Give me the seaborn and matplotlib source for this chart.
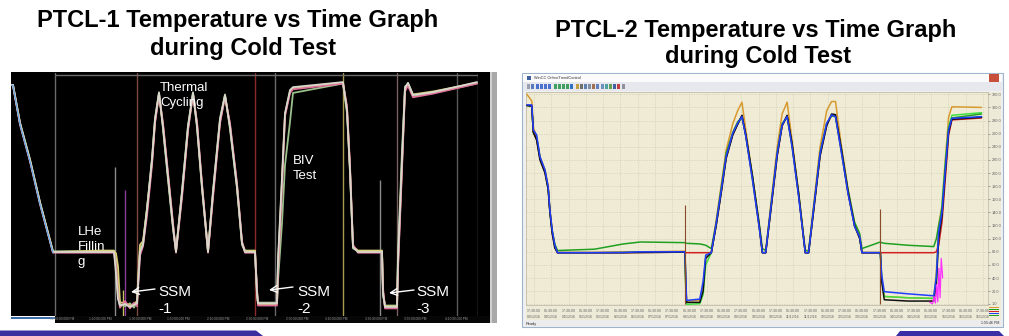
import numpy as np
import pandas as pd
import matplotlib
matplotlib.use("Agg")
import matplotlib.pyplot as plt
import seaborn as sns
from matplotlib.patches import Rectangle, Polygon

# ---------------- data: PTCL-1 (left, hours from start, temperature K) ----------------
ptcl1_time = [0, 2, 9, 19, 29, 42, 89, 103, 105, 107, 109, 114, 119, 123, 126, 129, 132, 136, 141,
              144, 148, 152, 157, 162, 165, 171, 177, 182, 186, 191, 197, 202, 209, 214, 219, 226,
              231, 234, 244, 246, 247, 259, 266, 267, 271, 274, 279, 282, 332, 336, 339, 342, 347,
              371, 372, 374, 386, 387, 391, 394, 397, 402, 422, 466]
ptcl1_s1 = [311, 311, 258, 207, 148, 80, 80, 80, 50, 15, 6, 8, 4, 7, 9, 80, 90, 138, 207, 263, 300,
            253, 184, 115, 80, 162, 253, 300, 255, 170, 80, 162, 263, 297, 253, 170, 92, 80, 80, 23,
            9, 9, 9, 69, 184, 272, 304, 308, 315, 276, 193, 87, 80, 80, 23, 4, 4, 69, 207, 307, 314,
            297, 301, 315]
ptcl1_s2 = [311, 310, 256, 205, 146, 79, 79, 79, 60, 20, 3, 12, 2, 10, 5, 75, 88, 130, 200, 258, 298,
            258, 190, 120, 79, 155, 248, 298, 260, 175, 79, 155, 258, 295, 258, 175, 95, 79, 79, 30,
            6, 6, 6, 55, 170, 268, 300, 305, 313, 282, 200, 90, 79, 79, 30, 2, 2, 55, 195, 302, 310,
            294, 299, 313]
ptcl1_s3 = [311, 311, 259, 208, 149, 81, 81, 81, 70, 25, 8, 5, 9, 3, 12, 84, 92, 140, 210, 265, 301,
            250, 180, 112, 81, 165, 255, 301, 252, 168, 81, 165, 265, 298, 250, 168, 90, 81, 81, 20,
            10, 10, 10, 40, 120, 200, 260, 300, 313, 272, 190, 85, 81, 81, 20, 6, 6, 80, 220, 309,
            312, 295, 300, 313]
ptcl1_s4 = [311, 311, 258, 207, 148, 80, 82, 82, 78, 60, 10, 10, 6, 8, 12, 90, 95, 140, 205, 260, 299,
            255, 186, 117, 82, 160, 250, 299, 257, 172, 82, 160, 260, 296, 255, 172, 93, 82, 82, 26,
            8, 8, 8, 64, 178, 270, 302, 306, 314, 278, 195, 88, 82, 82, 26, 5, 5, 62, 200, 305, 313,
            298, 302, 314]
ptcl1_sensors = ["T1", "T2", "T3", "T4"]
ptcl1_colors = {"T1": "#d8d8cc", "T2": "#e0709a", "T3": "#9cc08c", "T4": "#d8cf78"}
ptcl1_events = [44, 126, 244, 264, 332, 386, 446, 467]
ptcl1_event_colors = ["#6a6a6a", "#7a4a40", "#8a2a2a", "#6a6a6a", "#a89a50", "#7a6060", "#5a5a5a", "#6a6a6a"]
ptcl1_spike_t = [104, 112, 114, 369]
ptcl1_spike_top = [197, 27, 166, 180]
ptcl1_spike_colors = ["#8a8a8a", "#c8c060", "#8a3a9a", "#8a8a8a"]
ptcl1_tick_pos = [51, 89, 129, 167, 207, 246, 286, 325, 365, 404, 445]
ptcl1_tick_labels = ["12:50:00.000 PM", "1:10:00.000 PM", "1:30:00.000 PM", "1:50:00.000 PM",
                     "2:10:00.000 PM", "2:30:00.000 PM", "2:50:00.000 PM", "3:10:00.000 PM",
                     "3:30:00.000 PM", "3:50:00.000 PM", "4:10:00.000 PM"]

# ---------------- data: PTCL-2 (right, hours, temperature K) ----------------
ptcl2_time = [-5.0, -1.6, -0.5, 1.8, 4.1, 7.6, 9.8, 11.0, 12.6, 14.4, 16.3,
              42.0, 62.0, 74.0, 104.9,
              105.3, 106.0, 115.2, 117.5, 119.3, 123.2,
              126.6, 130.1, 133.5, 138.1, 141.5, 144.5, 147.2, 151.8, 156.4, 158.7,
              161.0, 164.4, 169.0, 172.4, 175.9, 179.3, 183.9, 188.5,
              190.8, 194.2, 198.8, 203.4, 206.8, 209.5, 213.7, 218.2, 222.8, 226.3, 227.9,
              240.7, 241.6, 243.4, 260.0, 277.8,
              279.6, 281.2, 283.5, 285.8, 288.1, 290.4, 311.0]
ptcl2_orange = [320, 310, 270, 255, 225, 205, 180, 145, 113, 91, 79,
                79, 80, 80, 81,
                50, 5, 6, 30, 72, 79,
                128, 182, 235, 275, 295, 308, 265, 195, 120, 79,
                79, 150, 240, 290, 308, 250, 170, 79,
                79, 150, 240, 295, 309, 309, 240, 175, 122, 104, 79,
                79, 40, 12, 10, 9,
                50, 120, 150, 220, 285, 301, 300]
ptcl2_lime = [303, 302, 263, 255, 223, 203, 178, 142, 112, 90, 78.7,
              78.7, 79, 80, 80,
              30, 0, 1, 15, 60, 78.7,
              122, 173, 224, 260, 275, 285, 256, 190, 119, 78.7,
              78.7, 143, 229, 273, 285, 241, 165, 78.7,
              78.7, 143, 229, 275, 288, 286, 231, 170, 119, 103, 78.7,
              78.7, 40, 12, 10, 9,
              40, 105, 150, 215, 270, 288, 292]
ptcl2_green = [303, 302, 262, 252, 224, 203, 177, 142, 111, 92, 82,
               84, 92, 95, 94,
               93, 93, 92, 91, 90, 85,
               125, 178, 230, 262, 278, 285, 258, 196, 125, 85,
               82, 145, 232, 275, 286, 245, 170, 82,
               82, 145, 232, 276, 287, 286, 236, 175, 125, 108, 85,
               95, 94, 93, 90, 88,
               100, 120, 145, 210, 268, 284, 290]
ptcl2_red = [303, 303, 263, 252, 222, 202, 178, 142, 110, 88, 78.7,
             78.7, 78.7, 79, 79.5,
             78.7, 78.7, 78.7, 78.7, 78.7, 78.7,
             122, 172, 224, 259, 275, 287, 257, 192, 120, 78.7,
             78.7, 142, 228, 272, 287, 243, 166, 78.7,
             78.7, 142, 228, 274, 289, 287, 232, 170, 119, 102, 78.7,
             78.7, 78.7, 78.7, 78.7, 78.7,
             80, 90, 125, 190, 258, 281, 284]
ptcl2_black = [303, 302, 262, 250, 220, 200, 175, 140, 108, 86, 78.7,
               78.7, 78.7, 79, 79.5,
               40, 3, 3, 20, 70, 78.7,
               120, 170, 222, 258, 274, 288, 258, 195, 122, 78.7,
               78.7, 140, 226, 272, 288, 245, 168, 78.7,
               78.7, 140, 226, 272, 290, 289, 235, 172, 120, 100, 78.7,
               78.7, 35, 7, 5, 5,
               30, 100, 135, 200, 262, 282, 285]
ptcl2_blue = [303.8, 303.8, 265.7, 258, 225, 204.7, 179.3, 143.7, 113.3, 90.4, 78.7,
              78.7, 79, 80, 80,
              52, 6, 8, 35, 75, 78.7,
              123.4, 174.2, 225, 260.6, 275.8, 286, 255.5, 189.5, 118.3, 78.7,
              78.7, 143.7, 230.1, 273.3, 286, 240.3, 164.1, 78.7,
              78.7, 143.7, 230.1, 275.8, 288.5, 286, 230.1, 169.1, 118.3, 103.1, 78.7,
              78.7, 45, 19.3, 16, 13,
              42, 110, 140, 204.7, 265.7, 283.4, 286]
ptcl2_magenta_time = [275, 277, 278, 279, 279.8, 280.6, 281.4, 282.2, 283, 284]
ptcl2_magenta = [3, 1, 12, 2, 30, 4, 55, 10, 70, 40]
ptcl2_palette = {"TT-A": "#d89a30", "TT-B": "#40e040", "TT-C": "#20a020",
                 "TT-D": "#d02020", "TT-E": "#101010", "TT-F": "#1f3fff"}
ptcl2_spike_t = [104.9, 240.2]
ptcl2_spike_top = [151, 146]
ptcl2_yticks = [1, 20, 40, 60, 80, 100, 120, 140, 160, 180, 200, 220, 240, 260, 280, 300, 320]
ptcl2_xticks = [0, 12, 24, 36, 48, 60, 72, 84, 96, 108, 120, 132, 144, 156, 168, 180, 192, 204,
                216, 228, 240, 252, 264, 276, 288, 300, 312]
ptcl2_xlabels = ["17:30:00\n03/12/16", "05:30:00\n04/12/16", "17:30:00\n04/12/16", "05:30:00\n05/12/16",
                 "17:30:00\n05/12/16", "05:30:00\n06/12/16", "17:30:00\n06/12/16", "05:30:00\n07/12/16",
                 "17:30:00\n07/12/16", "05:30:00\n08/12/16", "17:30:00\n08/12/16", "05:30:00\n09/12/16",
                 "17:30:00\n09/12/16", "05:30:00\n10/12/16", "17:30:00\n10/12/16", "05:30:00\n11/12/16",
                 "17:30:00\n11/12/16", "05:30:00\n12/12/16", "17:30:00\n12/12/16", "05:30:00\n13/12/16",
                 "17:30:00\n13/12/16", "05:30:00\n14/12/16", "17:30:00\n14/12/16", "05:30:00\n15/12/16",
                 "17:30:00\n15/12/16", "05:30:00\n16/12/16", "17:30:00\n16/12/16"]

# ---------------- figure ----------------
sns.set_theme(style="white")
plt.rcParams['font.family'] = ['Liberation Sans', 'DejaVu Sans']

W, H = 1009, 336
fig = plt.figure(figsize=(W / 100, H / 100), dpi=100)
fig.patch.set_facecolor("white")


def px_axes(x0, y0, x1, y1, **kw):
    ax = fig.add_axes([x0 / W, 1 - y1 / H, (x1 - x0) / W, (y1 - y0) / H], **kw)
    ax.set_zorder(10)
    return ax


def fig_rect(x0, y0, x1, y1, color, ec="none", lw=0, z=0):
    fig.patches.append(Rectangle((x0 / W, 1 - y1 / H), (x1 - x0) / W, (y1 - y0) / H,
                                 transform=fig.transFigure, facecolor=color, edgecolor=ec,
                                 linewidth=lw, zorder=z))


def fig_poly(pts, color, z=0):
    fig.patches.append(Polygon([(x / W, 1 - y / H) for x, y in pts], closed=True,
                               transform=fig.transFigure, facecolor=color, edgecolor="none",
                               zorder=z))


# titles
title_font = dict(family=['Liberation Sans', 'DejaVu Sans'],
                  fontweight='bold', color='black', ha='center', va='center')
fig.text(237.5 / W, 1 - 21 / H, "PTCL-1 Temperature vs Time Graph", fontsize=17, **title_font)
fig.text(243 / W, 1 - 48 / H, "during Cold Test", fontsize=17, **title_font)
fig.text(756 / W, 1 - 31 / H, "PTCL-2 Temperature vs Time Graph", fontsize=17, **title_font)
fig.text(758 / W, 1 - 57 / H, "during Cold Test", fontsize=17, **title_font)

# ---------------- left screenshot chrome ----------------
fig_rect(11, 72, 497, 316, "black")
fig_rect(55, 316, 497, 323, "#060606")
fig_rect(11, 316.5, 55, 318.5, "#3d6ca8")
fig_rect(490, 72, 497, 323, "#a8a8a8")
fig_rect(490, 72, 492, 323, "#d0d0d0")

T_TOP, T_BOT = 80 + (252 - 73) / 0.723, 80 - (316 - 252) / 0.723
axL = px_axes(11, 73, 478, 316)
axL.set_facecolor("none")
axL.set_xlim(0, 467)
axL.set_ylim(T_BOT, T_TOP)
axL.axis("off")

for t, c in zip(ptcl1_events, ptcl1_event_colors):
    axL.axvline(t, color=c, lw=1.0, zorder=1)
axL.hlines(80 + (252 - 74.5) / 0.723, 44, 467, color="#6a6a6a", lw=1.0, zorder=1)
for t, top, c in zip(ptcl1_spike_t, ptcl1_spike_top, ptcl1_spike_colors):
    axL.vlines(t, T_BOT, top, color=c, lw=1.0, zorder=2)

df1 = pd.DataFrame({
    "time": ptcl1_time * 4,
    "temp": ptcl1_s1 + ptcl1_s2 + ptcl1_s3 + ptcl1_s4,
    "sensor": sum([[s] * len(ptcl1_time) for s in ptcl1_sensors], []),
})
sns.lineplot(data=df1, x="time", y="temp", hue="sensor", hue_order=["T3", "T4", "T2", "T1"],
             palette=ptcl1_colors, estimator=None, sort=False, lw=1.3, legend=False, ax=axL,
             zorder=3)
axL.plot(ptcl1_time[:6], ptcl1_s2[:6], color="#5aa0e0", lw=0.8, zorder=4)

axL.text(149, 80 + (252 - 82) / 0.723, "Thermal\nCycling", fontsize=9.5, color="white",
         ha="left", va="top", linespacing=1.35)
axL.text(282, 80 + (252 - 155) / 0.723, "BIV\nTest", fontsize=9.5, color="white",
         ha="left", va="top", linespacing=1.35)
axL.text(67, 80 + (252 - 226) / 0.723, "LHe\nFillin\ng", fontsize=9.5, color="white",
         ha="left", va="top", linespacing=1.35)
for t0, lab in [(147, "SSM\n-1"), (286, "SSM\n-2"), (405, "SSM\n-3")]:
    axL.text(t0, 80 + (252 - 285) / 0.723, lab, fontsize=11, color="white",
             ha="left", va="top", linespacing=1.25)
for (xa, ya), (xb, yb) in [((144, 289), (120, 292)), ((282, 287), (258, 290)), ((403, 290), (378, 293))]:
    axL.annotate("", xy=(xb, 80 + (252 - yb) / 0.723), xytext=(xa, 80 + (252 - ya) / 0.723),
                 arrowprops=dict(arrowstyle="->", color="white", lw=1.0, shrinkA=0, shrinkB=0))
for t0, lab in zip(ptcl1_tick_pos, ptcl1_tick_labels):
    fig.text((t0 + 11) / W, 1 - 319.5 / H, lab, fontsize=2.3, color="#9a9a9a", ha="center", va="center")

# ---------------- right screenshot chrome ----------------
fig_rect(522, 73, 1003, 327, "#f0f0f0", ec="#9fb4cc", lw=0.8)
fig_rect(523, 74, 1002, 82, "#fbfbfb")
fig.text(534 / W, 1 - 78 / H, "WinCC OnlineTrendControl", fontsize=2.8, color="#303030", va="center")
fig_rect(527, 75.5, 531, 80, "#4060a0")
fig_rect(989, 74.5, 999, 81.5, "#c8503a")
fig_rect(523, 82, 1002, 91, "#e6e8ee")
icon_x = [527, 531, 536, 540, 544, 548, 554, 558, 562, 566, 570, 576, 580, 584, 588, 592, 596,
          601, 605, 609, 613, 617, 622]
icon_c = ["#9aa0b0", "#5a7ac0", "#4a70d0", "#4a70d0", "#4a70d0", "#4a70d0", "#40a060", "#40a060",
          "#40a060", "#40a060", "#3070c0", "#c0a040", "#707070", "#6080b0", "#8090a0", "#a07050",
          "#6080c0", "#7090c0", "#50a0a0", "#60a050", "#4060a0", "#c04040", "#9090a0"]
for xi, ci in zip(icon_x, icon_c):
    fig_rect(xi, 84, xi + 3, 89, ci)
fig_rect(526, 305, 988, 320, "#eeead8")
fig_rect(988, 92, 1001, 320, "#eeead8")
fig_rect(523, 320, 1002, 326, "#ececec")
fig.text(526 / W, 1 - 323.5 / H, "Ready", fontsize=2.8, color="#303030", va="center")
fig.text(999 / W, 1 - 323.5 / H, "1:55:46 PM", fontsize=2.6, color="#303030", va="center", ha="right")
for yy, cc in [(307, "#d89a30"), (309, "#20a020"), (311, "#d02020"), (313, "#1f3fff"), (315, "#20a020")]:
    fig_rect(989, yy, 999, yy + 1.2, cc)

axR = px_axes(526, 92, 988, 305)
axR.set_facecolor("#efebd5")
for sp in axR.spines.values():
    sp.set_color("#b8b4a0")
    sp.set_linewidth(0.5)

names = ["TT-A", "TT-B", "TT-C", "TT-D", "TT-E", "TT-F"]
series = [ptcl2_orange, ptcl2_lime, ptcl2_green, ptcl2_red, ptcl2_black, ptcl2_blue]
df2 = pd.DataFrame({
    "time": ptcl2_time * len(names),
    "temp": sum(series, []),
    "sensor": sum([[n] * len(ptcl2_time) for n in names], []),
})
sns.lineplot(data=df2, x="time", y="temp", hue="sensor", hue_order=names, palette=ptcl2_palette,
             estimator=None, sort=False, lw=1.1, legend=False, ax=axR, zorder=3)
sns.lineplot(x=ptcl2_magenta_time, y=ptcl2_magenta, color="#ff30ff", lw=0.9, ax=axR,
             estimator=None, sort=False, zorder=4)
for t, top in zip(ptcl2_spike_t, ptcl2_spike_top):
    axR.vlines(t, 0, top, color="#8b4a2a", lw=0.8, zorder=5)

axR.set_xticks(ptcl2_xticks)
axR.set_xticklabels(ptcl2_xlabels, fontsize=2.6, color="#404040", linespacing=1.6)
axR.set_yticks(ptcl2_yticks)
axR.set_yticklabels([f"{v:.1f}" for v in ptcl2_yticks], fontsize=2.8, color="#404040")
axR.yaxis.tick_right()
axR.tick_params(axis="both", length=1.5, width=0.4, pad=1.5, colors="#606060")
axR.grid(True, color="#cfcab4", lw=0.45, ls=(0, (2, 2)))
axR.set_xlim(-5.6, 315.5)
axR.set_ylim(-1, 323.5)
axR.set_xlabel("")
axR.set_ylabel("")

# ---------------- slide decoration ----------------
fig_poly([(0, 330.5), (256, 330.5), (263, 336), (0, 336)], "#3a2ea0", z=5)
fig_poly([(896, 336), (900, 331), (999, 331), (1004, 336)], "#3b2fa5", z=5)

fig.savefig("out.png", dpi=100, facecolor="white")
